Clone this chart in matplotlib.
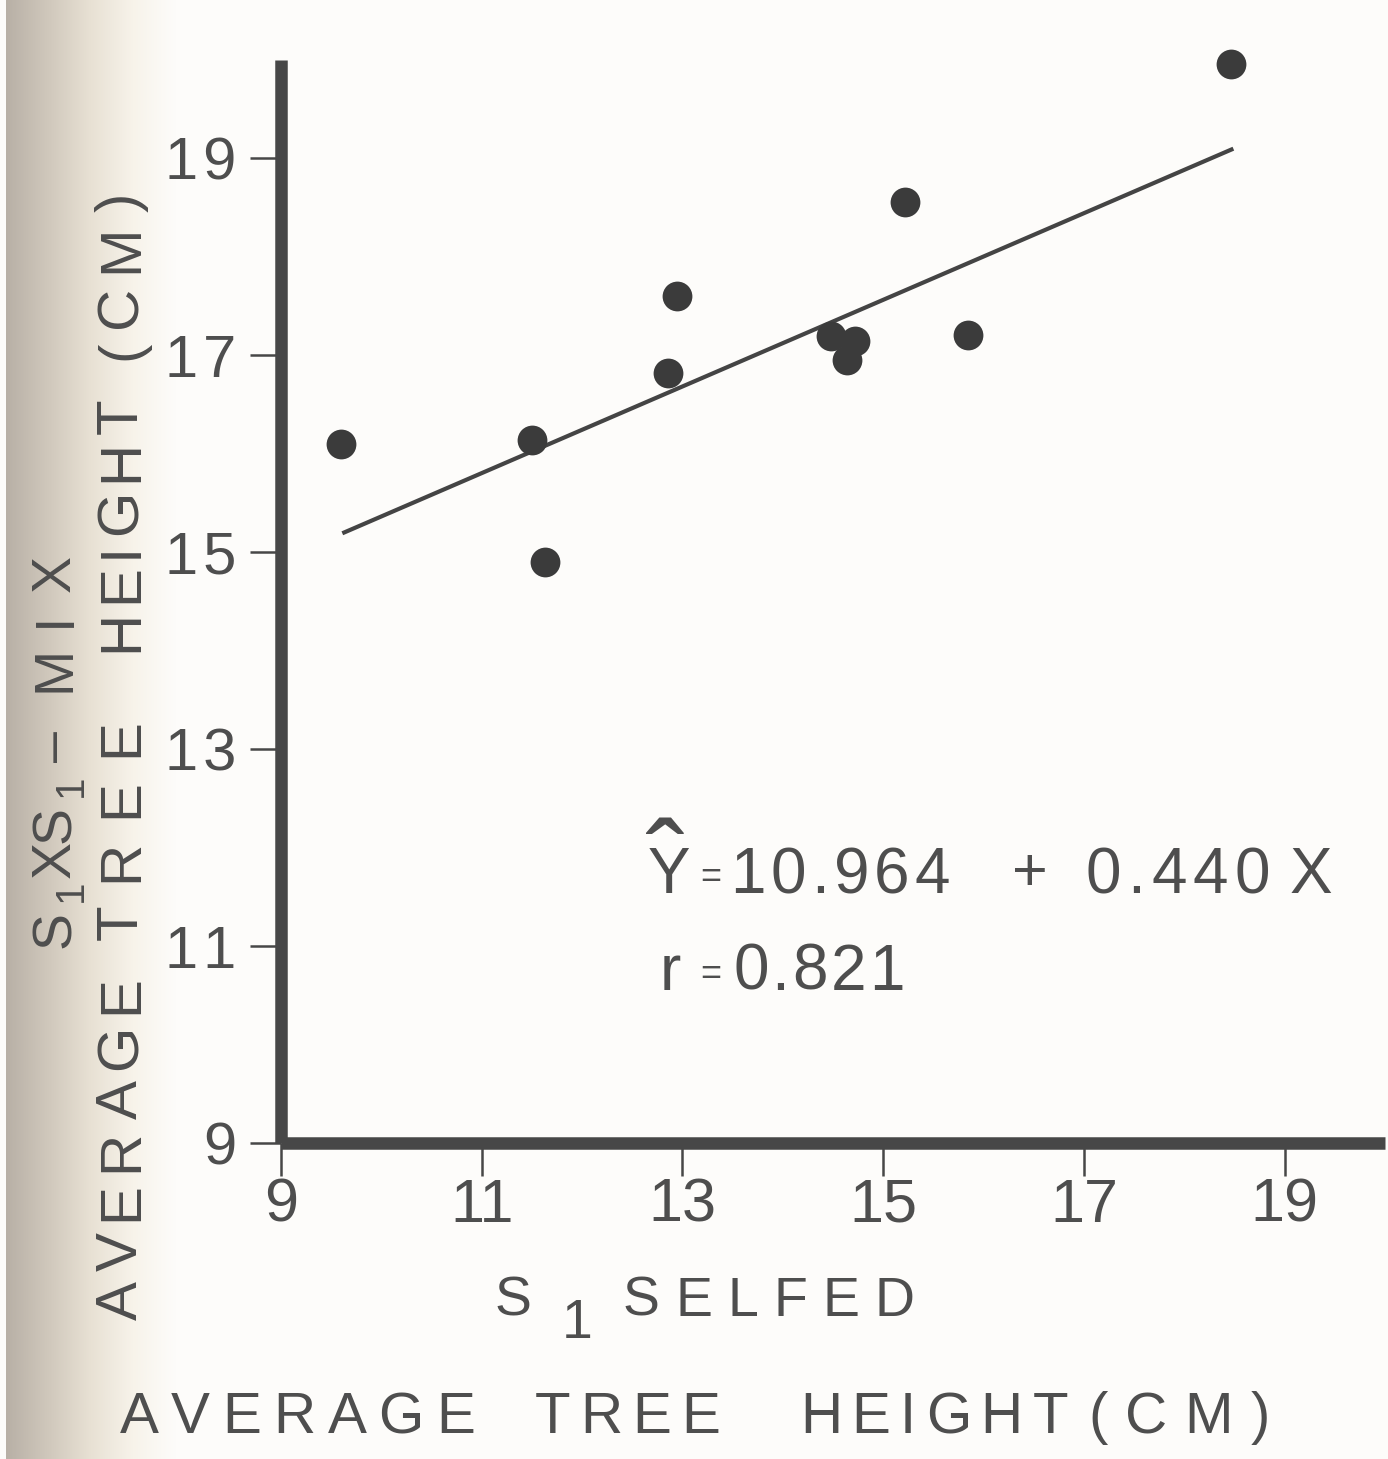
import numpy as np
import matplotlib.pyplot as plt
from matplotlib.colors import LinearSegmentedColormap
from matplotlib.font_manager import FontProperties

# S1 selfed vs S1xS1-mix average tree height (cm)
selfed = [9.6, 11.5, 11.63, 12.86, 12.95, 14.48, 14.72, 14.64, 15.22, 15.85, 18.47]
mix = [16.1, 16.14, 14.9, 16.82, 17.6, 17.2, 17.15, 16.95, 18.56, 17.21, 19.96]
fit_x = [9.63, 18.47]
intercept = 10.964
slope = 0.440
ticks = [9, 11, 13, 15, 17, 19]

W, H = 1388, 1459
ink = "#474747"
txt = "#4e4e4e"
fam = ["Liberation Sans", "DejaVu Sans"]
plt.rcParams["font.family"] = fam


def px(x, y):
    return x / W, 1 - y / H


fig = plt.figure(figsize=(W / 100, H / 100), dpi=100)
fig.patch.set_facecolor("#fdfcfa")
renderer = fig.canvas.get_renderer()


def ink_w(ch, size):
    fp = FontProperties(family=fam, size=size)
    w, h, d = renderer.get_text_width_height_descent(ch, fp, ismath=False)
    return w


def word(s, start, end, base, size, rot=0):
    # letter-spaced word: first glyph at start, last glyph ending at end
    widths = [ink_w(c, size) for c in s]
    gap = 0 if len(s) < 2 else (abs(end - start) - sum(widths)) / (len(s) - 1)
    step = 1 if rot == 0 else -1
    pos = start
    for c, w in zip(s, widths):
        if rot == 0:
            fig.text(*px(pos, base), c, fontsize=size, color=txt,
                     ha="left", va="baseline")
        else:
            fig.text(*px(base, pos), c, fontsize=size, color=txt, rotation=90,
                     rotation_mode="anchor", ha="left", va="baseline")
        pos += step * (w + gap)


# scanned page shade at the left edge
bg = fig.add_axes([6 / W, 0, 170 / W, 1], zorder=-5)
grad = np.linspace(0, 1, 300).reshape(1, -1)
cmap = LinearSegmentedColormap.from_list(
    "shade", ["#b8b0a6", "#d0c8bc", "#e8e1d4", "#f7f3ea", "#fdfcfa"])
bg.imshow(grad, aspect="auto", cmap=cmap, extent=[0, 1, 0, 1])
bg.axis("off")

x0, y0 = px(281, 1143)
x1, y1 = px(1385, 60)
ax = fig.add_axes([x0, y0, x1 - x0, y1 - y0])
ax.set_facecolor("none")

ax.scatter(selfed, mix, s=460, color="#3b3b3b", zorder=3, clip_on=False,
           linewidths=0)
fx = np.array(fit_x)
ax.plot(fx, intercept + slope * fx, color="#444444", lw=3)

ax.set_xlim(9, 20)
ax.set_ylim(9, 20)
ax.set_xticks(ticks)
ax.set_yticks(ticks)
ax.set_xticklabels([str(t) for t in ticks])
ax.set_yticklabels(["\u200a".join(str(t)) for t in ticks])
ax.tick_params(axis="both", direction="out", colors=ink, labelcolor=txt,
               width=1.8)
ax.tick_params(axis="y", length=22, pad=10, labelsize=43)
ax.tick_params(axis="x", length=24, pad=1, labelsize=44)

for side in ["top", "right"]:
    ax.spines[side].set_visible(False)
for side in ["left", "bottom"]:
    ax.spines[side].set_linewidth(9)
    ax.spines[side].set_color(ink)
    ax.spines[side].set_capstyle("butt")

# regression text
word("Y", 648, 648, 893, 46)
fig.text(*px(646, 903), "\u02c6", fontsize=84, color=txt,
         ha="left", va="baseline")
word("=", 700, 700, 887, 26)
word("10.964", 730, 950, 893, 46)
word("+", 1012, 1012, 890, 44)
word("0.440", 1086, 1270, 893, 46)
word("X", 1290, 1290, 893, 46)
word("r", 660, 660, 990, 46)
word("=", 700, 700, 984, 26)
word("0.821", 733, 905, 990, 46)

# x axis labels
word("S", 495, 495, 1316, 40)
word("1", 562, 562, 1338, 40)
word("SELFED", 623, 915, 1316, 40)
word("AVERAGE", 120, 475, 1433, 42)
word("TREE", 535, 720, 1433, 42)
word("HEIGHT", 800, 1068, 1433, 42)
word("(CM)", 1088, 1270, 1433, 42)

# y axis labels (rotated, read bottom to top)
word("S", 948, 948, 70, 40, rot=90)
word("1", 902, 902, 82, 29, rot=90)
word("X", 878, 878, 70, 40, rot=90)
word("S", 843, 843, 70, 40, rot=90)
word("1", 797, 797, 82, 29, rot=90)
word("\u2013", 762, 762, 70, 40, rot=90)
word("MIX", 692, 555, 70, 40, rot=90)
word("AVERAGE", 1320, 975, 137, 42, rot=90)
word("TREE", 940, 718, 137, 42, rot=90)
word("HEIGHT", 652, 398, 137, 42, rot=90)
word("(CM)", 360, 193, 137, 42, rot=90)

fig.savefig("out.png", dpi=100, facecolor=fig.get_facecolor())
